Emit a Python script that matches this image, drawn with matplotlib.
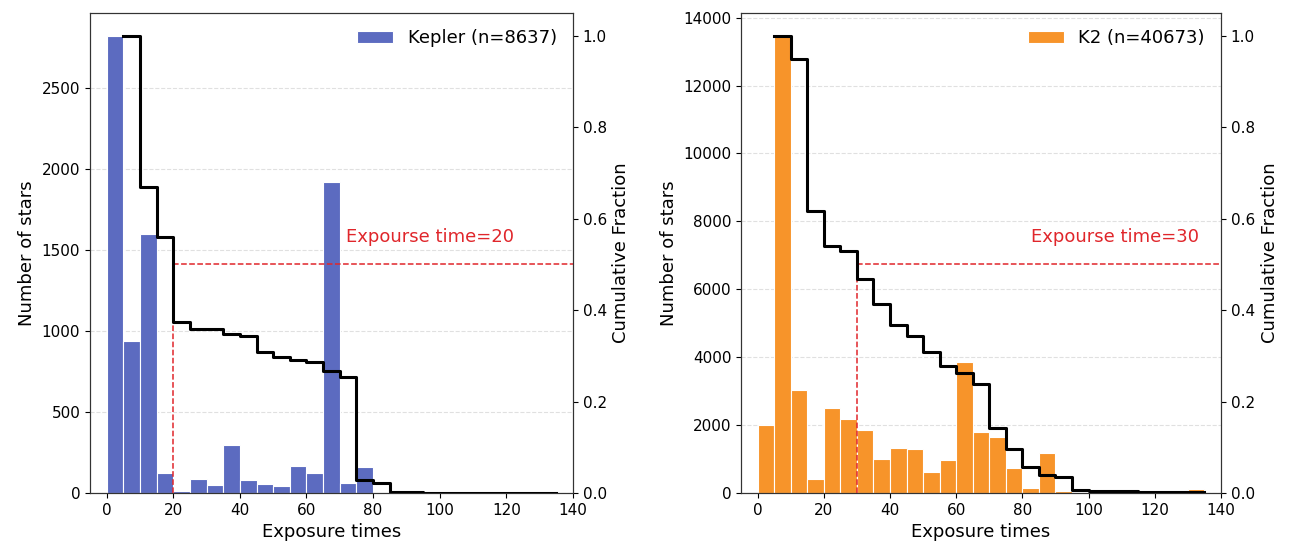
import numpy as np
import matplotlib
matplotlib.use('Agg')
import matplotlib.pyplot as plt

# bin edges shared by both panels (width 5, 0..135)
edges = np.arange(0, 140, 5)

# Kepler counts per bin
kepler_counts = [2821, 938, 1597, 125, 10, 84, 52, 296, 82, 55, 45, 166, 121,
                 1922, 64, 160, 8, 3, 2, 2, 1, 1, 1, 0, 1, 0, 1]
# K2 counts per bin
k2_counts = [2000, 13460, 3032, 427, 2510, 2186, 1853, 997, 1336, 1302, 623,
             968, 3858, 1785, 1637, 723, 150, 1180, 60, 20, 10, 5, 10, 5, 5, 5, 110]

kepler_label = 'Kepler (n=8637)'
k2_label = 'K2 (n=40673)'
kepler_cut = 20
k2_cut = 30

blue = '#5c6bc0'
orange = '#f7942a'
red = '#e0262b'


def panel(ax, counts, color, label, cut, text_x):
	counts = np.array(counts, dtype=float)
	centers = edges[:-1] + 2.5
	ax.bar(centers, counts, width=5, color=color, edgecolor='white',
	       linewidth=0.8, label=label, zorder=2)
	ax.grid(axis='y', linestyle='--', color='#cccccc', alpha=0.6, zorder=0)
	ax.set_axisbelow(True)
	ax.set_xlim(-5, 140)
	ax.set_xlabel('Exposure times', fontsize=13)
	ax.set_ylabel('Number of stars', fontsize=13)
	ax.tick_params(labelsize=11)
	ax.legend(loc='upper right', frameon=False, fontsize=13)

	# fraction of stars at or above each bin's left edge, drawn at its right edge
	frac = 1 - np.concatenate([[0], np.cumsum(counts)[:-1]]) / counts.sum()
	ax2 = ax.twinx()
	ax2.step(edges[1:], frac, where='post', color='black', lw=2.2, zorder=3)
	ax2.set_ylim(0, 1.05)
	ax2.set_ylabel('Cumulative Fraction', fontsize=13)
	ax2.tick_params(labelsize=11)
	for a in (ax, ax2):
		for s in a.spines.values():
			s.set_color('#333333')

	ycut = frac[np.searchsorted(edges[1:], cut)]
	ax2.plot([cut, 140], [0.5, 0.5], '--', color=red, lw=1.1)
	ax2.plot([cut, cut], [0, ycut], '--', color=red, lw=1.1)
	ax2.text(text_x, 0.561, 'Expourse time=%d' % cut, color=red, fontsize=13,
	         ha='left', va='center')


fig = plt.figure(figsize=(12.93, 5.46), dpi=100)
ax_left = fig.add_axes([0.0696, 0.097, 0.3735, 0.879])
ax_right = fig.add_axes([0.5731, 0.097, 0.3712, 0.879])

panel(ax_left, kepler_counts, blue, kepler_label, kepler_cut, 72)
panel(ax_right, k2_counts, orange, k2_label, k2_cut, 82.7)

fig.savefig('out.png', dpi=100)
